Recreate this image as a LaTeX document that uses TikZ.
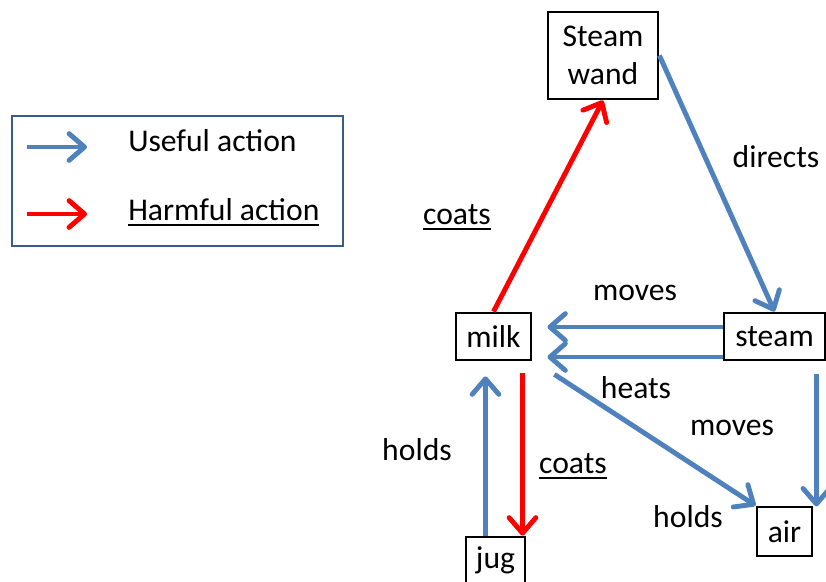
\documentclass[tikz,border=0pt]{standalone}
\usepackage{fontspec}
\setmainfont{Carlito}
\usetikzlibrary{
  arrows.meta,
  calc
}
\definecolor{useful}{HTML}{4F81BD}
\definecolor{harmful}{HTML}{FF0000}
\definecolor{legendline}{HTML}{385D8A}
\newcommand\uline[1]{\setbox0\hbox{#1}\rlap{\rule[-4.2pt]{\wd0}{1.4pt}}\box0}

\begin{document}
\begin{tikzpicture}[
  x=0.025cm, y=-0.025cm,
  font=\fontsize{22.5}{27.5}\selectfont,
  obj/.style={draw, line width=2pt, minimum height=1.175cm, inner sep=0pt, align=center},
  arr/.style={-{Straight Barb[length=11pt,width=19pt,round]}, line width=3.5pt},
  good/.style={arr, useful},
  bad/.style={arr, harmful},
  lbl/.style={inner sep=0pt},
]
  \useasboundingbox (0,0) rectangle (826,581);

  % Legend (LEFT)
  \node[draw=legendline, line width=1.4pt, minimum width=8.275cm, minimum height=3.25cm] (legend) at (177.5,181) {};
  \coordinate (u0) at (27,147);
  \coordinate (u1) at (87,147);
  \coordinate (h0) at (27,214);
  \coordinate (h1) at (87,214);
  \draw[good] (u0) -- (u1);
  \draw[bad] (h0) -- (h1);
  \node[lbl, anchor=base west] (usetxt) at (128,151.7) {Useful action};
  \node[lbl, anchor=base west] (harmtxt) at (128,220) {\uline{Harmful action}};

  % Objects
  \node[obj, minimum width=2.75cm, minimum height=2.175cm] (wand) at (603,55.5) {Steam\\wand};
  \node[obj, minimum width=1.875cm] (milk) at (493.5,336.5) {milk};
  \node[obj, minimum width=2.525cm] (steam) at (774.5,336.5) {steam};
  \node[obj, minimum width=1.475cm] (jug) at (495.5,560.5) {jug};
  \node[obj, minimum width=1.375cm, minimum height=1.225cm] (air) at (784.5,531.5) {air};

  % Actions
  \draw[bad] (milk.north) -- (wand.south);
  \draw[good] (wand.east) -- (steam.north);
  \draw[good] ($(steam.west)+(0,-9.5)$) -- ($(milk.east)+(15,-9.5)$);
  \draw[good] ($(steam.west)+(0,20.5)$) -- ($(milk.east)+(15,20.5)$);
  \draw[good] ($(milk.south east)+(22,13)$) -- (air.north west);
  \draw[good] ($(steam.south east)+(-10,13)$) -- ($(steam.south east)+(-10,145)$);
  \draw[good] ($(jug.north)+(-10,0)$) -- ($(milk.south)+(-8,15)$);
  \draw[bad] ($(milk.south)+(29,12)$) -- ($(jug.north)+(27,0)$);

  % Labels
  \node[lbl, anchor=base] (coatsup) at (457,224) {\uline{coats}};
  \node[lbl] (directs) at (776,157) {directs};
  \node[lbl] (movesup) at (635,293) {moves};
  \node[lbl] (heats) at (636,388) {heats};
  \node[lbl] (movesdn) at (732,428) {moves};
  \node[lbl] (holdsl) at (417,450) {holds};
  \node[lbl, anchor=base] (coatsdn) at (573,473) {\uline{coats}};
  \node[lbl] (holdsr) at (688,517) {holds};
\end{tikzpicture}
\end{document}
